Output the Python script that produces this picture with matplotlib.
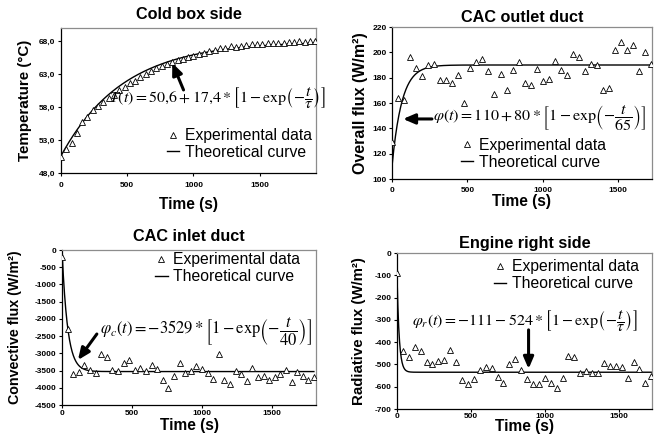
import numpy as np
import matplotlib
matplotlib.use("Agg")
import matplotlib.pyplot as plt
from matplotlib.ticker import FuncFormatter

plt.rcParams['font.family'] = ['Liberation Sans', 'DejaVu Sans']
plt.rcParams['mathtext.fontset'] = 'stix'

# ---- data ----
# Cold box side (40 s sampling)
time_cold = [0, 40, 80, 120, 160, 200, 240, 280, 320, 360, 400, 440, 480, 520, 560,
             600, 640, 680, 720, 760, 800, 840, 880, 920, 960, 1000, 1040, 1080, 1120,
             1160, 1200, 1240, 1280, 1320, 1360, 1400, 1440, 1480, 1520, 1560, 1600,
             1640, 1680, 1720, 1760, 1800, 1840, 1880, 1920]
temp_cold = [50.4, 51.6, 52.5, 54.0, 55.8, 56.5, 57.5, 58.2, 58.8, 59.4, 59.9, 60.6,
             61.1, 61.6, 62.0, 62.5, 63.0, 63.5, 63.9, 64.3, 64.6, 64.8, 65.1, 65.3,
             65.6, 65.8, 66.0, 66.2, 66.5, 66.7, 66.9, 67.0, 67.2, 67.1, 67.3, 67.4,
             67.5, 67.6, 67.6, 67.7, 67.8, 67.8, 67.8, 67.9, 67.9, 68.0, 67.9, 68.0, 68.0]

# CAC outlet duct
time_out = [0, 40, 80, 120, 160, 200, 240, 280, 320, 360, 400, 440, 480, 520, 560,
            600, 640, 680, 720, 760, 800, 840, 880, 920, 960, 1000, 1040, 1080, 1120,
            1160, 1200, 1240, 1280, 1320, 1360, 1400, 1440, 1480, 1520, 1560, 1600,
            1640, 1680, 1720]
flux_out = [129, 164, 162, 196, 188, 181, 190, 191, 178, 178, 176, 182, 160, 188, 192,
            195, 185, 167, 183, 170, 186, 192, 176, 174, 187, 177, 179, 193, 186, 182,
            199, 196, 185, 191, 190, 170, 172, 202, 208, 202, 206, 185, 200, 191]

# CAC inlet duct
time_in = [0, 40, 80, 120, 160, 200, 240, 280, 320, 360, 400, 440, 480, 520, 560,
           600, 640, 680, 720, 760, 800, 840, 880, 920, 960, 1000, 1040, 1080, 1120,
           1160, 1200, 1240, 1280, 1320, 1360, 1400, 1440, 1480, 1520, 1560, 1600,
           1640, 1680, 1720, 1760, 1800]
flux_in = [-200, -2300, -3600, -3550, -3330, -3480, -3560, -3010, -3100, -3480, -3500,
           -3290, -3180, -3490, -3440, -3500, -3340, -3460, -3780, -4000, -3650, -3280,
           -3580, -3520, -3380, -3450, -3580, -3740, -3010, -3760, -3900, -3500, -3600,
           -3800, -3420, -3680, -3650, -3760, -3700, -3600, -3480, -3820, -3550, -3650,
           -3780, -3680]

# Engine right side
time_eng = list(time_out)
flux_eng = [-90, -440, -465, -420, -440, -490, -500, -485, -480, -435, -490, -570,
            -590, -565, -525, -510, -515, -555, -585, -500, -475, -525, -565, -590,
            -590, -560, -585, -605, -560, -460, -465, -540, -530, -540, -540, -495,
            -505, -505, -510, -560, -490, -520, -585, -550]

# model parameters (start value, amplitude, tau)
model_cold = (50.6, 17.4, 470.0)
model_out = (110.0, 80.0, 65.0)
model_in = (0.0, -3529.0, 40.0)
model_eng = (-100.0, -435.0, 15.0)

eq_cold = r"$T(t)=50{,}6+17{,}4*\left[1-\mathrm{exp}\left(-\dfrac{t}{\tau}\right)\right]$"
eq_out = r"$\varphi(t)=110+80*\left[1-\mathrm{exp}\left(-\dfrac{t}{65}\right)\right]$"
eq_in = r"$\varphi_c(t)=-3529*\left[1-\mathrm{exp}\left(-\dfrac{t}{40}\right)\right]$"
eq_eng = r"$\varphi_r(t)=-111-524*\left[1-\mathrm{exp}\left(-\dfrac{t}{\tau}\right)\right]$"

W, H = 659, 443
fig = plt.figure(figsize=(W / 100, H / 100), dpi=100)


def add_ax(l, t, r, b):
    return fig.add_axes([l / W, 1 - b / H, (r - l) / W, (b - t) / H])


def model(p, t):
    return p[0] + p[1] * (1 - np.exp(-t / p[2]))


def draw(ax, t, y, p, xmax, yticks, ylim, fmt, title, ylabel, eq, eq_pos, eq_size,
         leg_pos, arrow, title_y, xlab_y, ylab_x, ylab_size, xpad):
    ax.plot(t, y, ls='none', marker='^', ms=4.4, mfc='white', mec='black',
            mew=0.6, label='Experimental data', zorder=3)
    tt = np.linspace(0, t[-1], 600)
    ax.plot(tt, model(p, tt), color='black', lw=1.0, label='Theoretical curve', zorder=2)
    ax.set_xlim(0, xmax)
    ax.set_ylim(*ylim)
    ax.set_xticks([0, 500, 1000, 1500])
    ax.set_yticks(yticks)
    ax.yaxis.set_major_formatter(FuncFormatter(fmt))
    ax.tick_params(direction='out', length=2.5, width=0.8, labelsize=6, pad=1.5)
    ax.tick_params(axis='x', pad=xpad)
    for lab in ax.get_xticklabels() + ax.get_yticklabels():
        lab.set_fontweight('bold')
    for s in ['left', 'bottom']:
        ax.spines[s].set_color('black')
        ax.spines[s].set_linewidth(0.9)
    for s in ['top', 'right']:
        ax.spines[s].set_color('#8c8c8c')
        ax.spines[s].set_linewidth(0.9)
    ax.text(0.5, title_y, title, transform=ax.transAxes, ha='center', va='center',
            fontsize=11.7, fontweight='bold')
    ax.set_xlabel('Time (s)', fontsize=11.2, fontweight='bold', va='center')
    ax.xaxis.set_label_coords(0.5, xlab_y)
    ax.set_ylabel(ylabel, fontsize=ylab_size, fontweight='bold', va='center')
    ax.yaxis.set_label_coords(ylab_x, 0.5)
    ax.text(eq_pos[0], eq_pos[1], eq, transform=ax.transAxes, ha='left', va='center',
            fontsize=eq_size)
    ax.legend(loc='upper left', bbox_to_anchor=leg_pos, frameon=False, fontsize=11.3,
              handlelength=0.8, handletextpad=0.35, labelspacing=0.12, borderpad=0,
              borderaxespad=0)
    ax.annotate('', xy=arrow[0], xytext=arrow[1],
                arrowprops=dict(arrowstyle='-|>,head_length=0.7,head_width=0.3',
                                lw=2.2, color='black', shrinkA=0, shrinkB=0))


def comma1(v, pos):
    return f"{v:.1f}".replace('.', ',')


def plain(v, pos):
    return f"{v:.0f}"


ax1 = add_ax(61, 28, 316, 173)
draw(ax1, time_cold, temp_cold, model_cold, 1925, [48, 53, 58, 63, 68], (48, 70), comma1,
     'Cold box side', 'Temperature (°C)', eq_cold, (0.19, 0.52), 11.5, (0.415, 0.31),
     ((840, 64.7), (925, 60.6)), 1.09, -0.22, -0.14, 10.9, 4)

ax2 = add_ax(392, 27, 652, 179)
draw(ax2, time_out, flux_out, model_out, 1725, np.arange(100, 221, 20), (100, 220), plain,
     'CAC outlet duct', 'Overall flux (W/m²)', eq_out, (0.158, 0.395), 11.6, (0.265, 0.27),
     ((73, 147.4), (265, 147.4)), 1.062, -0.151, -0.123, 11.5, 3.5)

ax3 = add_ax(62, 250, 316, 405)
draw(ax3, time_in, flux_in, model_in, 1815, np.arange(-4500, 1, 500), (-4500, 0), plain,
     'CAC inlet duct', 'Convective flux (W/m²)', eq_in, (0.15, 0.47), 11.9, (0.366, 0.985),
     ((114, -3194), (249, -2439)), 1.084, -0.135, -0.185, 10.3, 1.0)

ax4 = add_ax(397, 253, 652, 409)
draw(ax4, time_eng, flux_eng, model_eng, 1725, np.arange(-700, 1, 100), (-700, 0), plain,
     'Engine right side', 'Radiative flux (W/m²)', eq_eng, (0.06, 0.57), 11.5, (0.38, 0.96),
     ((890, -520), (890, -345)), 1.064, -0.11, -0.149, 10.8, 0.2)

fig.savefig('out.png', dpi=100)
